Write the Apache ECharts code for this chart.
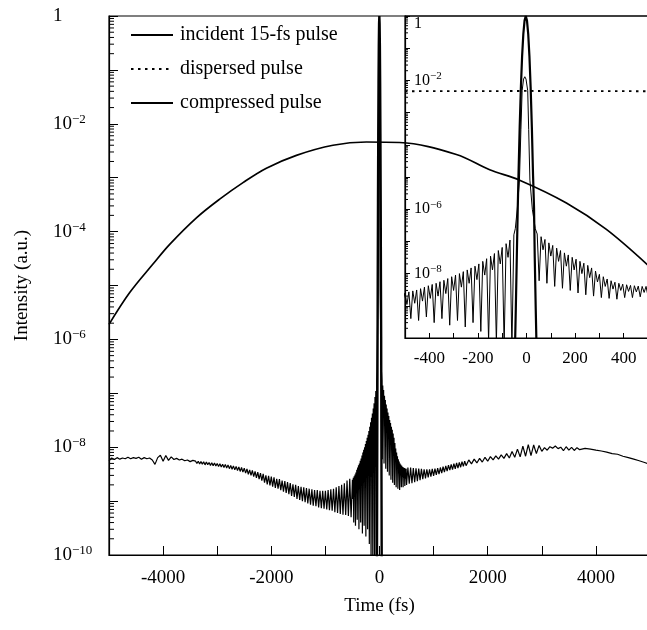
<!DOCTYPE html>
<html>
<head>
<meta charset="utf-8">
<script src="https://cdn.jsdelivr.net/npm/echarts@6/dist/echarts.min.js"></script>
<style>html,body{margin:0;padding:0;background:#fff;}#c{width:647px;height:630px;}</style>
</head>
<body>
<div id="c"></div>
<script>
// ---------- DATA ----------
// Incident 15-fs pulse: [time fs, intensity]
const incidentPulse = [[-48,3e-11],[-44,8e-10],[-40,3e-8],[-36,1.1e-6],[-33,1.1e-5],[-28,3.6e-4],[-23,6.3e-3],[-18,5.8e-2],[-13,0.28],[-8,0.72],[-3,1],[2,0.72],[7,0.28],[12,5.8e-2],[17,6.3e-3],[22,3.6e-4],[27,1.1e-5],[31,1.1e-6],[34,3e-8],[38,8e-10],[42,3e-11]];

// Dispersed pulse (main panel)
const dispersedMain = [[-5000,1.9e-6],[-4617,7.4e-6],[-4187,2.5e-5],[-3878,5.8e-5],[-3384,1.8e-4],[-2954,4e-4],[-2523,8.1e-4],[-2091,1.5e-3],[-1536,2.6e-3],[-860,4e-3],[-242,4.6e-3],[373,4.5e-3],[1421,2.7e-3],[2037,1.4e-3],[2590,9e-4],[3455,3.4e-4],[4194,1.1e-4],[5000,2.2e-5]];
// Dispersed pulse (inset, flat over ±500 fs)
const dispersedInset = [[-500,4.6e-3],[0,4.7e-3],[500,4.6e-3]];

// Compressed pulse, segment by segment
const compFarLeft = [[-5000,5.6e-9],[-4950,6.3e-9],[-4900,5.9e-9],[-4850,6.4e-9],[-4800,6.0e-9],[-4750,6.3e-9],[-4700,6.1e-9],[-4650,6.5e-9],[-4600,6.1e-9],[-4550,6.4e-9],[-4500,6.2e-9],[-4450,6.5e-9],[-4400,6.0e-9],[-4350,6.4e-9],[-4300,6.1e-9],[-4250,6.3e-9],[-4200,5.8e-9],[-4150,4.8e-9],[-4100,6.4e-9],[-4050,7.1e-9],[-4000,5.5e-9],[-3950,7.0e-9],[-3900,5.7e-9],[-3850,6.6e-9],[-3800,5.9e-9],[-3750,6.2e-9],[-3700,5.8e-9],[-3650,6.0e-9],[-3600,5.6e-9],[-3550,5.8e-9],[-3500,5.4e-9],[-3450,5.7e-9]];
const compLeftBand = [[-3400,5.5e-9],[-3375,5.0e-9],[-3350,5.5e-9],[-3325,4.9e-9],[-3300,5.4e-9],[-3275,4.85e-9],[-3250,5.35e-9],[-3225,4.7e-9],[-3200,5.3e-9],[-3175,4.75e-9],[-3150,5.2e-9],[-3125,4.6e-9],[-3100,5.15e-9],[-3075,4.55e-9],[-3050,5.1e-9],[-3025,4.5e-9],[-3000,5.0e-9],[-2975,4.4e-9],[-2950,4.95e-9],[-2925,4.3e-9],[-2900,4.85e-9],[-2875,4.2e-9],[-2850,4.8e-9],[-2825,4.1e-9],[-2800,4.7e-9],[-2775,4.0e-9],[-2750,4.6e-9],[-2725,3.9e-9],[-2700,4.5e-9],[-2675,3.8e-9],[-2650,4.4e-9],[-2625,3.7e-9],[-2600,4.3e-9],[-2575,3.55e-9],[-2550,4.2e-9],[-2525,3.45e-9],[-2500,4.1e-9],[-2475,3.3e-9],[-2450,3.95e-9],[-2425,3.15e-9],[-2400,3.8e-9],[-2375,3.0e-9],[-2350,3.7e-9],[-2325,2.85e-9],[-2300,3.55e-9],[-2275,2.7e-9],[-2250,3.45e-9],[-2225,2.55e-9],[-2200,3.3e-9],[-2175,2.4e-9],[-2150,3.2e-9],[-2125,2.2e-9],[-2100,3.0e-9],[-2075,2.05e-9],[-2050,2.95e-9],[-2025,1.95e-9],[-2000,2.85e-9],[-1975,1.85e-9],[-1950,2.75e-9],[-1925,1.75e-9],[-1900,2.6e-9],[-1875,1.7e-9],[-1850,2.55e-9],[-1825,1.6e-9],[-1800,2.4e-9],[-1775,1.5e-9],[-1750,2.35e-9],[-1725,1.42e-9],[-1700,2.25e-9],[-1675,1.35e-9],[-1650,2.15e-9],[-1625,1.25e-9],[-1600,2.05e-9],[-1575,1.2e-9],[-1550,2.0e-9],[-1525,1.1e-9],[-1500,1.9e-9],[-1475,1.05e-9],[-1450,1.85e-9],[-1425,1.0e-9],[-1400,1.8e-9],[-1375,9.5e-10],[-1350,1.75e-9],[-1325,9.0e-10],[-1300,1.7e-9],[-1275,8.6e-10],[-1250,1.65e-9],[-1225,8.2e-10],[-1200,1.6e-9],[-1175,8.0e-10],[-1150,1.6e-9],[-1125,7.6e-10],[-1100,1.55e-9],[-1075,7.4e-10],[-1050,1.55e-9],[-1025,7.2e-10],[-1000,1.55e-9],[-975,7.0e-10],[-950,1.6e-9],[-925,6.8e-10],[-900,1.65e-9],[-875,6.6e-10],[-850,1.7e-9],[-825,6.2e-10],[-800,1.8e-9],[-775,6.0e-10],[-750,1.9e-9],[-725,5.8e-10],[-700,2.0e-9],[-675,5.6e-10],[-650,2.15e-9],[-625,5.5e-10],[-600,2.4e-9],[-575,5.3e-10],[-550,2.6e-9],[-525,5.0e-10]];
const compLeftWing = [[-500,2.5e-9],[-492,1.1e-9],[-484,2.7e-9],[-476,4e-10],[-468,2.9e-9],[-460,1.2e-9],[-452,3.1e-9],[-444,3.5e-10],[-436,3.4e-9],[-428,1.4e-9],[-420,3.8e-9],[-412,4.5e-10],[-404,4.2e-9],[-396,1.7e-9],[-388,4.6e-9],[-380,3e-10],[-372,5e-9],[-364,2e-9],[-356,5.6e-9],[-348,4e-10],[-340,6.2e-9],[-332,2.4e-9],[-324,7e-9],[-316,2.5e-10],[-308,8e-9],[-300,3e-9],[-292,9e-9],[-284,3.5e-10],[-276,1e-8],[-268,3.8e-9],[-260,1.15e-8],[-252,2.2e-10],[-244,1.3e-8],[-236,5e-9],[-228,1.5e-8],[-220,3e-10],[-212,1.7e-8],[-204,6.5e-9],[-196,2e-8],[-188,1.6e-10],[-180,2.4e-8],[-172,9e-9],[-164,2.9e-8],[-156,8e-11],[-148,3.5e-8],[-140,1.3e-8],[-132,4.2e-8],[-124,7e-11],[-116,5.2e-8],[-108,2e-8],[-100,6.5e-8],[-92,6e-11],[-84,8.5e-8],[-76,3.2e-8],[-68,1.1e-7],[-60,5e-11],[-52,1.6e-7]];
const compPeak = [[-46,2.5e-7],[-38,1e-6],[-29,8e-6],[-23,3e-4],[-18,4.8e-3],[-12,1.1e-2],[-7,1.3e-2],[-2,1.1e-2],[5,4.8e-3],[9,3e-4],[14,8e-6],[24,1e-6],[36,2.5e-7]];
const compRightWing = [[44,1.7e-7],[52,6e-9],[60,1.4e-7],[68,5.5e-8],[76,1.15e-7],[84,5e-9],[92,9e-8],[100,3.5e-8],[108,7.5e-8],[116,4e-9],[124,6.2e-8],[132,2.4e-8],[140,5.2e-8],[148,3.5e-9],[156,4.4e-8],[164,1.7e-8],[172,3.8e-8],[180,3e-9],[188,3.2e-8],[196,1.3e-8],[204,2.8e-8],[212,2.5e-9],[220,2.4e-8],[228,1e-8],[236,2.1e-8],[244,2.2e-9],[252,1.8e-8],[260,7.5e-9],[268,1.5e-8],[276,2e-9],[284,1.2e-8],[292,5.5e-9],[300,9.5e-9],[308,1.8e-9],[316,8e-9],[324,4e-9],[332,6.8e-9],[340,1.7e-9],[348,6e-9],[356,3.3e-9],[364,5.4e-9],[372,1.6e-9],[380,5e-9],[388,3e-9],[396,4.7e-9],[404,1.8e-9],[412,4.5e-9],[420,2.8e-9],[428,4.3e-9],[436,1.8e-9],[444,4.2e-9],[452,2.7e-9],[460,4.1e-9],[468,1.9e-9],[476,4e-9],[484,2.6e-9],[492,4e-9],[500,2e-9]];
const compRightBand = [[525,4.2e-9],[550,2.1e-9],[575,4.2e-9],[600,2.15e-9],[625,4.1e-9],[650,2.25e-9],[675,4.05e-9],[700,2.35e-9],[725,4.0e-9],[750,2.45e-9],[775,3.95e-9],[800,2.55e-9],[825,3.9e-9],[850,2.65e-9],[875,3.9e-9],[900,2.75e-9],[925,3.9e-9],[950,2.85e-9],[975,3.95e-9],[1000,2.95e-9],[1025,4.0e-9],[1050,3.05e-9],[1075,4.1e-9],[1100,3.15e-9],[1125,4.2e-9],[1150,3.3e-9],[1175,4.35e-9],[1200,3.45e-9],[1225,4.5e-9],[1250,3.6e-9],[1275,4.65e-9],[1300,3.75e-9],[1325,4.8e-9],[1350,3.85e-9],[1375,4.95e-9],[1400,3.95e-9],[1425,5.1e-9],[1450,4.1e-9],[1475,5.25e-9],[1500,4.25e-9],[1525,5.4e-9],[1550,4.4e-9],[1575,5.5e-9],[1600,4.55e-9],[1650,5.8e-9],[1700,4.9e-9],[1750,6.0e-9],[1800,5.1e-9],[1850,6.2e-9],[1900,5.3e-9],[1950,6.5e-9],[2000,5.5e-9],[2050,6.7e-9],[2100,5.8e-9],[2150,6.9e-9],[2200,6.0e-9],[2250,7.2e-9],[2300,6.2e-9],[2350,7.6e-9],[2400,6.3e-9],[2450,8.3e-9],[2500,6.5e-9],[2550,9.2e-9],[2600,6.6e-9],[2650,1.05e-8],[2700,6.8e-9],[2750,1.12e-8],[2800,7.0e-9],[2850,1.1e-8],[2900,7.6e-9],[2950,1.08e-8],[3000,8.4e-9],[3050,9.8e-9],[3100,8.8e-9],[3150,1.02e-8],[3200,9.6e-9],[3250,1.05e-8],[3300,9.4e-9],[3350,1.0e-8],[3400,8.6e-9],[3450,1.02e-8],[3500,8.8e-9],[3550,9.9e-9],[3600,8.7e-9],[3650,9.8e-9],[3700,9.0e-9]];
const compFarRight = [[3800,9.5e-9],[3900,9.2e-9],[4000,8.8e-9],[4100,8.5e-9],[4200,8.1e-9],[4300,7.6e-9],[4400,7.4e-9],[4500,6.8e-9],[4600,6.4e-9],[4700,6.0e-9],[4800,5.6e-9],[4900,5.2e-9],[5000,4.8e-9]];

// Tick label values
const mainXLabels = [-4000, -2000, 0, 2000, 4000];
const mainYLabelExps = [0, -2, -4, -6, -8, -10];
const insetXLabels = [-400, -200, 0, 200, 400];
const insetYLabelExps = [0, -2, -6, -8];

const compressedPulse = [].concat(compFarLeft, compLeftBand, compLeftWing, compPeak, compRightWing, compRightBand, compFarRight);

// minor log ticks (axis decoration)
const minorTickVals = [];
for (let k = -10; k < 0; k++) for (let m = 2; m <= 9; m++) minorTickVals.push(m * Math.pow(10, k));

const FONT = 'Liberation Serif';
const MINUS = '\u2212';

function expLabel(v, allowed, cls) {
  const e = Math.round(Math.log10(v));
  if (allowed.indexOf(e) < 0) return '';
  if (e === 0) return cls === 'm' ? '{one|1}' : '{onei|1}';
  return '{' + cls + 'b|10}{' + cls + 's|' + MINUS + Math.abs(e) + '}';
}
function tickRenderer(len) {
  return function (params, api) {
    const p = api.coord([api.value(0), api.value(1)]);
    return { type: 'line', shape: { x1: p[0], y1: p[1], x2: p[0] + len, y2: p[1] },
      style: { stroke: '#000', lineWidth: 1 } };
  };
}

const chart = echarts.init(document.getElementById('c'), null, { renderer: 'canvas' });
chart.setOption({
  animation: false,
  backgroundColor: '#fff',
  textStyle: { fontFamily: FONT, color: '#000' },
  legend: {
    data: ['incident 15-fs pulse', 'dispersed pulse', 'compressed pulse'],
    orient: 'vertical', left: 125, top: 20, itemWidth: 42, itemHeight: 14, itemGap: 14,
    itemStyle: { opacity: 0 },
    textStyle: { fontFamily: FONT, fontSize: 20, color: '#000', padding: [0, 0, 0, 2] },
    selectedMode: false
  },
  grid: [
    { left: 109, right: -3, top: 16, bottom: 75, show: true, borderColor: '#000', borderWidth: 1.2, backgroundColor: 'transparent', containLabel: false, outerBoundsMode: 'none' },
    { left: 405, right: -1, top: 16, bottom: 292, show: true, borderColor: '#000', borderWidth: 1.2, backgroundColor: 'transparent', containLabel: false, outerBoundsMode: 'none' }
  ],
  xAxis: [
    { gridIndex: 0, type: 'value', min: -5000, max: 5000, interval: 1000,
      name: 'Time (fs)', nameLocation: 'middle', nameGap: 42,
      nameTextStyle: { fontFamily: FONT, fontSize: 19, color: '#000' },
      axisLine: { onZero: false, lineStyle: { color: '#000', width: 1.2 } },
      axisTick: { inside: true, length: 9, lineStyle: { color: '#000' } },
      axisLabel: { margin: 14, fontFamily: FONT, fontSize: 19, color: '#000',
        formatter: v => mainXLabels.indexOf(v) >= 0 ? String(v) : '' },
      splitLine: { show: false } },
    { gridIndex: 1, type: 'value', min: -500, max: 500, interval: 100,
      axisLine: { onZero: false, lineStyle: { color: '#000', width: 1.2 } },
      axisTick: { inside: true, length: 5, lineStyle: { color: '#000' } },
      axisLabel: { margin: 12, fontFamily: FONT, fontSize: 17, color: '#000',
        formatter: v => insetXLabels.indexOf(v) >= 0 ? String(v) : '' },
      splitLine: { show: false } }
  ],
  yAxis: [
    { gridIndex: 0, type: 'log', logBase: 10, min: 1e-10, max: 1, interval: 1, splitNumber: 10,
      name: 'Intensity (a.u.)', nameLocation: 'middle', nameGap: 77,
      nameTextStyle: { fontFamily: FONT, fontSize: 19, color: '#000' },
      axisLine: { onZero: false, lineStyle: { color: '#000', width: 1.2 } },
      axisTick: { inside: true, length: 9, lineStyle: { color: '#000' } },
      axisLabel: { margin: 56, align: 'left', fontFamily: FONT, color: '#000', showMinLabel: true, showMaxLabel: true,
        formatter: v => expLabel(v, mainYLabelExps, 'm'),
        rich: {
          one: { fontFamily: FONT, fontSize: 19, lineHeight: 22 },
          mb: { fontFamily: FONT, fontSize: 19, lineHeight: 22 },
          ms: { fontFamily: FONT, fontSize: 13, lineHeight: 10, verticalAlign: 'top' }
        } },
      splitLine: { show: false } },
    { gridIndex: 1, type: 'log', logBase: 10, min: 1e-10, max: 1, interval: 1, splitNumber: 10,
      axisLine: { onZero: false, lineStyle: { color: '#000', width: 1.2 } },
      axisTick: { inside: true, length: 5, lineStyle: { color: '#000' } },
      axisLabel: { inside: true, margin: 9, align: 'left', fontFamily: FONT, color: '#000',
        formatter: v => expLabel(v, insetYLabelExps, 'i'),
        rich: {
          onei: { fontFamily: FONT, fontSize: 16, lineHeight: 20, padding: [16, 0, 0, 0] },
          ib: { fontFamily: FONT, fontSize: 16, lineHeight: 20 },
          is: { fontFamily: FONT, fontSize: 11, lineHeight: 9, verticalAlign: 'top' }
        } },
      splitLine: { show: false } }
  ],
  series: [
    { name: 'incident 15-fs pulse', type: 'line', xAxisIndex: 1, yAxisIndex: 1, data: incidentPulse,
      symbol: 'none', lineStyle: { color: '#000', width: 2.2 }, itemStyle: { color: '#000' } },
    { name: 'dispersed pulse', type: 'line', xAxisIndex: 1, yAxisIndex: 1, data: dispersedInset,
      symbol: 'none', lineStyle: { color: '#000', width: 1.8, type: [2.5, 4.5] }, itemStyle: { color: '#000' } },
    { name: 'compressed pulse', type: 'line', xAxisIndex: 1, yAxisIndex: 1, data: compressedPulse,
      symbol: 'none', lineStyle: { color: '#000', width: 1.0 }, itemStyle: { color: '#000' } },
    { name: 'incident 15-fs pulse', type: 'line', xAxisIndex: 0, yAxisIndex: 0, data: incidentPulse,
      symbol: 'none', lineStyle: { color: '#000', width: 2.4 } },
    { name: 'dispersed pulse', type: 'line', xAxisIndex: 0, yAxisIndex: 0, data: dispersedMain,
      symbol: 'none', smooth: 0.35, lineStyle: { color: '#000', width: 1.7 } },
    { name: 'compressed pulse', type: 'line', xAxisIndex: 0, yAxisIndex: 0, data: compressedPulse,
      symbol: 'none', lineStyle: { color: '#000', width: 1.2 } },
    { name: 'minor ticks main', type: 'custom', xAxisIndex: 0, yAxisIndex: 0, silent: true,
      data: minorTickVals.map(v => [-5000, v]), renderItem: tickRenderer(5) },
    { name: 'minor ticks inset', type: 'custom', xAxisIndex: 1, yAxisIndex: 1, silent: true,
      data: minorTickVals.map(v => [-500, v]), renderItem: tickRenderer(3) }
  ]
});
</script>
</body>
</html>
